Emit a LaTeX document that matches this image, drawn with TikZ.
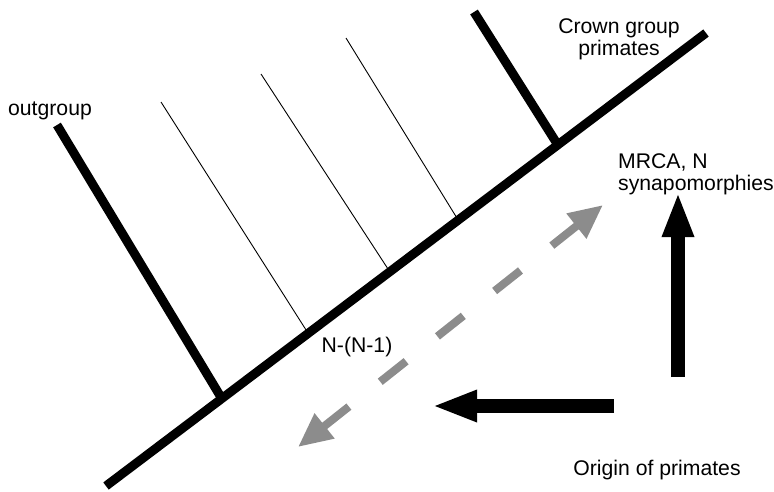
\documentclass[tikz,border=0pt]{standalone}
\usepackage{fontspec}
\setmainfont{Liberation Sans}
\usetikzlibrary{arrows.meta,calc}
\definecolor{dashgray}{RGB}{140,140,140}

\begin{document}
\begin{tikzpicture}[x=1pt, y=-1pt,
  stem/.style={line width=9pt},
  twig/.style={line width=0.9pt},
  lbl/.style={font=\fontsize{21.2}{22}\selectfont, inner sep=0pt, align=center},
  bigarr/.style={line width=14pt, -{Triangle[length=45pt,width=29pt]}},
  rangearr/.style={line width=8pt, draw=dashgray, dash pattern=on 33pt off 40pt,
                   {Triangle[length=34pt,width=30pt]}-{Triangle[length=34pt,width=30pt]}},
]
  \useasboundingbox (0,0) rectangle (774,491);

  % backbone of the tree
  \coordinate (root) at (106,486);
  \coordinate (top) at (706,33);
  \coordinate (jout) at ($(root)!0.193!(top)$);
  \coordinate (ja) at ($(root)!0.337!(top)$);
  \coordinate (jb) at ($(root)!0.473!(top)$);
  \coordinate (jc) at ($(root)!0.587!(top)$);
  \coordinate (jcrown) at ($(root)!0.753!(top)$);

  \coordinate (out) at (57,125);
  \coordinate (ta) at (161,102);
  \coordinate (tb) at (261,74);
  \coordinate (tc) at (346,38);
  \coordinate (crown) at (474,12);

  \draw[twig] (ta) -- (ja);
  \draw[twig] (tb) -- (jb);
  \draw[twig] (tc) -- (jc);
  \draw[stem] (out) -- (jout);
  \draw[stem] (crown) -- (jcrown);
  \draw[stem] (root) -- (top);

  % labels (base = last line)
  \node[lbl, anchor=base] (outlbl) at (50,115) {outgroup};
  \node[lbl, anchor=base] (crownlbl) at (619,55) {Crown group\\primates};
  \node[lbl, anchor=base west, align=left] (mrca) at (618,190) {MRCA, N\\synapomorphies};
  \node[lbl, anchor=base] (nn) at (357,352) {N-(N-1)};
  \node[lbl, anchor=base] (origin) at (657,475) {Origin of primates};

  % arrows
  \coordinate (glow) at (298,447);
  \coordinate (ghigh) at (603,205);
  \draw[rangearr] (glow) -- (ghigh);

  \coordinate (lstart) at (614,406);
  \coordinate (lend) at (432,406);
  \draw[bigarr] (lstart) -- (lend);

  \coordinate (ustart) at (678,377);
  \coordinate (uend) at (678,192);
  \draw[bigarr] (ustart) -- (uend);
\end{tikzpicture}
\end{document}
